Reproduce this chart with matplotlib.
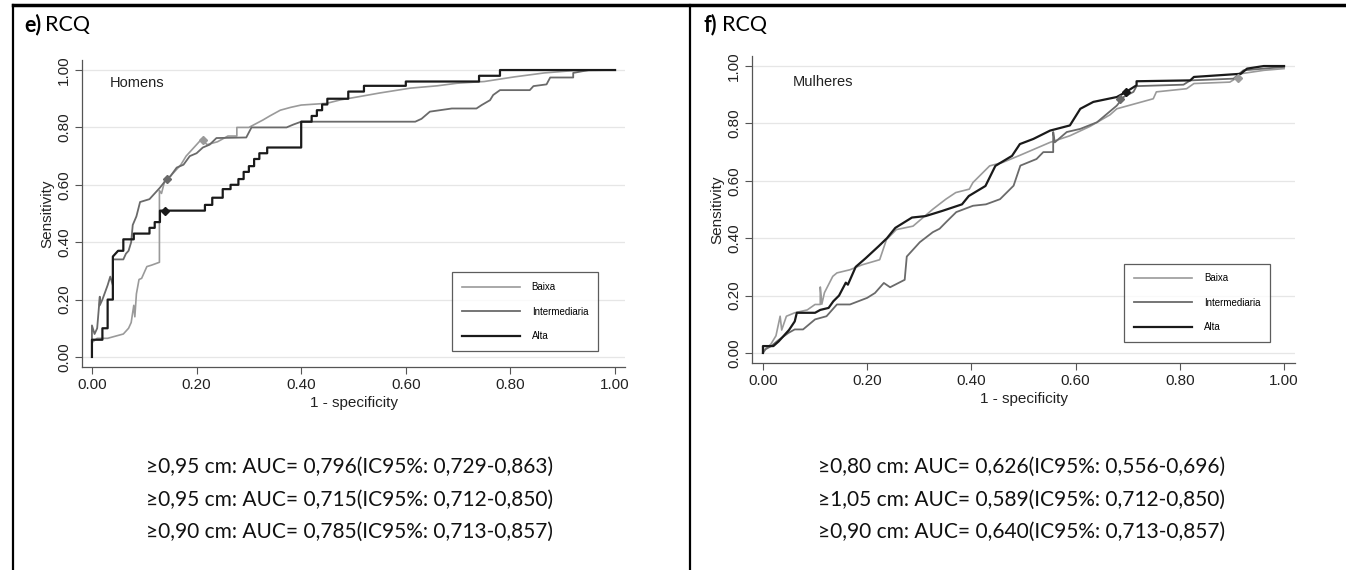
import matplotlib
matplotlib.use('Agg')
import matplotlib.pyplot as plt
from matplotlib.lines import Line2D

# ---- dados (curvas ROC) ----
# painel e) Homens
h_baixa_x = [0, 0, 0.01, 0.03, 0.05, 0.06, 0.07, 0.075, 0.08, 0.082, 0.085, 0.09, 0.095, 0.105, 0.114, 0.129,
             0.129, 0.133, 0.14, 0.15, 0.16, 0.17, 0.18, 0.19, 0.20, 0.21, 0.22, 0.24, 0.26, 0.277, 0.277, 0.30,
             0.327, 0.34, 0.36, 0.38, 0.40, 0.449, 0.475, 0.513, 0.55, 0.609, 0.66, 0.698, 0.75, 0.807, 0.865,
             0.92, 1.0]
h_baixa_y = [0, 0.05, 0.065, 0.065, 0.075, 0.08, 0.10, 0.12, 0.18, 0.14, 0.22, 0.27, 0.274, 0.315, 0.32, 0.33,
             0.58, 0.57, 0.62, 0.63, 0.65, 0.67, 0.70, 0.72, 0.74, 0.76, 0.74, 0.75, 0.77, 0.77, 0.80, 0.80,
             0.826, 0.84, 0.86, 0.87, 0.878, 0.884, 0.896, 0.908, 0.92, 0.937, 0.945, 0.954, 0.96, 0.976, 0.99,
             0.998, 1.0]
h_inter_x = [0, 0, 0.005, 0.01, 0.015, 0.015, 0.02, 0.03, 0.035, 0.04, 0.04, 0.06, 0.065, 0.07, 0.075, 0.078,
             0.085, 0.092, 0.11, 0.12, 0.13, 0.143, 0.15, 0.162, 0.175, 0.187, 0.20, 0.212, 0.225, 0.238, 0.295,
             0.305, 0.372, 0.385, 0.40, 0.618, 0.63, 0.646, 0.688, 0.735, 0.745, 0.761, 0.767, 0.78, 0.837,
             0.844, 0.869, 0.876, 0.92, 0.92, 0.95, 1.0]
h_inter_y = [0, 0.11, 0.08, 0.10, 0.21, 0.18, 0.20, 0.25, 0.28, 0.25, 0.34, 0.34, 0.36, 0.37, 0.40, 0.46,
             0.49, 0.54, 0.55, 0.57, 0.59, 0.62, 0.63, 0.66, 0.67, 0.70, 0.71, 0.73, 0.74, 0.763, 0.765,
             0.80, 0.80, 0.81, 0.82, 0.82, 0.83, 0.855, 0.866, 0.866, 0.878, 0.895, 0.913, 0.93, 0.93,
             0.944, 0.95, 0.974, 0.974, 0.99, 1.0, 1.0]
h_alta_x = [0, 0, 0.02, 0.02, 0.03, 0.03, 0.04, 0.04, 0.05, 0.06, 0.06, 0.08, 0.08, 0.11, 0.11, 0.12, 0.12,
            0.13, 0.13, 0.216, 0.216, 0.23, 0.23, 0.25, 0.25, 0.265, 0.265, 0.28, 0.28, 0.29, 0.29, 0.30, 0.30,
            0.31, 0.31, 0.32, 0.32, 0.335, 0.335, 0.40, 0.40, 0.42, 0.42, 0.43, 0.43, 0.44, 0.44, 0.45, 0.45,
            0.49, 0.49, 0.52, 0.52, 0.60, 0.60, 0.74, 0.74, 0.78, 0.78, 1.0]
h_alta_y = [0, 0.06, 0.06, 0.10, 0.10, 0.20, 0.20, 0.35, 0.37, 0.37, 0.41, 0.41, 0.43, 0.43, 0.45, 0.45, 0.47,
            0.47, 0.51, 0.51, 0.53, 0.53, 0.555, 0.555, 0.585, 0.585, 0.60, 0.60, 0.62, 0.62, 0.645, 0.645,
            0.665, 0.665, 0.69, 0.69, 0.71, 0.71, 0.73, 0.73, 0.82, 0.82, 0.84, 0.84, 0.86, 0.86, 0.88, 0.88,
            0.90, 0.90, 0.925, 0.925, 0.945, 0.945, 0.96, 0.96, 0.98, 0.98, 1.0, 1.0]

# painel f) Mulheres
m_baixa_x = [0, 0.004, 0.015, 0.025, 0.033, 0.036, 0.045, 0.061, 0.085, 0.10, 0.11, 0.11, 0.113, 0.118, 0.134,
             0.142, 0.167, 0.19, 0.224, 0.237, 0.256, 0.288, 0.326, 0.351, 0.37, 0.396, 0.403, 0.435, 0.46,
             0.492, 0.551, 0.589, 0.628, 0.666, 0.679, 0.749, 0.755, 0.813, 0.827, 0.896, 0.912, 0.916, 0.961,
             1.0]
m_baixa_y = [0, 0.013, 0.03, 0.06, 0.128, 0.08, 0.128, 0.14, 0.15, 0.169, 0.169, 0.23, 0.17, 0.21, 0.267,
             0.279, 0.29, 0.307, 0.325, 0.395, 0.43, 0.442, 0.501, 0.536, 0.559, 0.571, 0.594, 0.652, 0.664,
             0.688, 0.734, 0.757, 0.79, 0.83, 0.851, 0.886, 0.91, 0.921, 0.939, 0.944, 0.962, 0.973, 0.985,
             0.991]
m_inter_x = [0, 0.005, 0.016, 0.03, 0.049, 0.061, 0.077, 0.10, 0.122, 0.142, 0.167, 0.2, 0.215, 0.232, 0.244,
             0.272, 0.276, 0.301, 0.326, 0.339, 0.352, 0.371, 0.403, 0.428, 0.455, 0.481, 0.494, 0.525, 0.538,
             0.557, 0.557, 0.56, 0.583, 0.609, 0.641, 0.66, 0.679, 0.692, 0.711, 0.717, 0.807, 0.82, 0.903,
             0.922, 1.0]
m_inter_y = [0, 0.013, 0.024, 0.045, 0.07, 0.082, 0.082, 0.117, 0.128, 0.169, 0.169, 0.192, 0.209, 0.244,
             0.229, 0.255, 0.336, 0.386, 0.421, 0.433, 0.457, 0.491, 0.513, 0.518, 0.536, 0.583, 0.653, 0.676,
             0.70, 0.70, 0.77, 0.734, 0.77, 0.781, 0.804, 0.833, 0.862, 0.892, 0.91, 0.93, 0.935, 0.95, 0.956,
             0.985, 0.997]
m_alta_x = [0, 0, 0.02, 0.03, 0.04, 0.05, 0.061, 0.065, 0.10, 0.11, 0.126, 0.135, 0.146, 0.159, 0.163, 0.178,
            0.197, 0.222, 0.238, 0.254, 0.286, 0.312, 0.344, 0.382, 0.395, 0.427, 0.446, 0.478, 0.493, 0.519,
            0.551, 0.589, 0.609, 0.634, 0.679, 0.697, 0.717, 0.717, 0.82, 0.827, 0.917, 0.929, 0.961, 1.0]
m_alta_y = [0, 0.024, 0.024, 0.04, 0.06, 0.08, 0.11, 0.14, 0.14, 0.15, 0.157, 0.18, 0.20, 0.245, 0.238, 0.30,
            0.33, 0.372, 0.40, 0.436, 0.472, 0.477, 0.495, 0.518, 0.547, 0.582, 0.652, 0.687, 0.728, 0.746,
            0.775, 0.793, 0.851, 0.875, 0.892, 0.91, 0.933, 0.947, 0.95, 0.962, 0.973, 0.991, 1.0, 1.0]

# pontos de corte (marcadores)
h_cut = {'baixa': (0.213, 0.756), 'inter': (0.143, 0.62), 'alta': (0.14, 0.51)}
m_cut = {'baixa': (0.912, 0.958), 'inter': (0.686, 0.886), 'alta': (0.697, 0.909)}

grupos = ['Baixa', 'Intermediaria', 'Alta']
cores = ['#9a9a9a', '#6a6a6a', '#1a1a1a']
larguras = [1.2, 1.3, 1.6]

titulos = ['e)', 'f)']
sexo = ['Homens', 'Mulheres']
auc_h = ['≥0,95 cm: AUC= 0,796(IC95%: 0,729-0,863)',
         '≥0,95 cm: AUC= 0,715(IC95%: 0,712-0,850)',
         '≥0,90 cm: AUC= 0,785(IC95%: 0,713-0,857)']
auc_m = ['≥0,80 cm: AUC= 0,626(IC95%: 0,556-0,696)',
         '≥1,05 cm: AUC= 0,589(IC95%: 0,712-0,850)',
         '≥0,90 cm: AUC= 0,640(IC95%: 0,713-0,857)']

ticks = [0, 0.2, 0.4, 0.6, 0.8, 1.0]
tick_lab = ['0.00', '0.20', '0.40', '0.60', '0.80', '1.00']

plt.rcParams['font.family'] = ['Liberation Sans', 'DejaVu Sans']

fig = plt.figure(figsize=(13.46, 5.70), dpi=100)
fig.patch.set_facecolor('white')

# moldura da tabela
fig.add_artist(Line2D([13/1346, 1], [1-5/570, 1-5/570], color='black', lw=2.5, transform=fig.transFigure))
fig.add_artist(Line2D([13/1346, 13/1346], [0, 1-5/570], color='black', lw=1.6, transform=fig.transFigure))
fig.add_artist(Line2D([690/1346, 690/1346], [0, 1-5/570], color='black', lw=1.6, transform=fig.transFigure))

pos = [[82/1346, 1-367/570, 543/1346, 307/570],
       [752/1346, 1-363/570, 543/1346, 307/570]]
xlims = [(-0.019, 1.019), (-0.021, 1.021)]
ylims = [(-0.035, 1.035), (-0.035, 1.035)]

dados = [
    [(h_baixa_x, h_baixa_y), (h_inter_x, h_inter_y), (h_alta_x, h_alta_y)],
    [(m_baixa_x, m_baixa_y), (m_inter_x, m_inter_y), (m_alta_x, m_alta_y)],
]
cortes = [h_cut, m_cut]
textos = [auc_h, auc_m]
centros = [350/1346, 1022/1346]
tit_x = [24/1346, 704/1346]
sexo_pos = [(0.052, 0.925), (0.075, 0.915)]
leg_anchor = [(0.950, 0.052), (0.954, 0.068)]

for k in range(2):
    ax = fig.add_axes(pos[k])
    for i, (xx, yy) in enumerate(dados[k]):
        ax.plot(xx, yy, color=cores[i], lw=larguras[i], label=grupos[i], zorder=3 + i)
    for i, chave in enumerate(['baixa', 'inter', 'alta']):
        cx, cy = cortes[k][chave]
        ax.plot([cx], [cy], marker='D', ms=4.5, color=cores[i], zorder=7)
    ax.set_xlim(xlims[k])
    ax.set_ylim(ylims[k])
    ax.set_xticks(ticks)
    ax.set_xticklabels(tick_lab, fontsize=11, color='#222222')
    ax.set_yticks(ticks)
    ax.set_yticklabels(tick_lab, fontsize=11, color='#222222', rotation=90, va='center')
    ax.tick_params(direction='out', length=5, width=0.8, color='#555555', pad=3)
    ax.grid(axis='y', color='#e6e6e6', lw=0.9, zorder=0)
    for s in ['top', 'right']:
        ax.spines[s].set_visible(False)
    for s in ['left', 'bottom']:
        ax.spines[s].set_color('#555555')
        ax.spines[s].set_linewidth(0.9)
    ax.set_xlabel('1 - specificity', fontsize=11, color='#222222', labelpad=3)
    ax.set_ylabel('Sensitivity', fontsize=11, color='#222222', labelpad=2)
    ax.text(sexo_pos[k][0], sexo_pos[k][1], sexo[k], transform=ax.transAxes, fontsize=10.5,
            color='#222222', va='center')
    leg = ax.legend(loc='lower right', bbox_to_anchor=leg_anchor[k], fontsize=7, handlelength=6,
                    labelspacing=1.5, borderpad=1.0, handletextpad=1.2, frameon=True, fancybox=False,
                    borderaxespad=0)
    leg.get_frame().set_edgecolor('#333333')
    leg.get_frame().set_linewidth(0.9)

    # titulo do painel
    t = fig.text(tit_x[k], 1-25/570, titulos[k], fontsize=15.5, fontweight='bold',
                 family=['Lato', 'DejaVu Sans'], va='center', ha='left')
    fig.canvas.draw()
    bb = t.get_window_extent()
    fig.text(bb.x1 / fig.bbox.width + 0.003, 1-25/570, 'RCQ', fontsize=15.5, family=['Lato', 'DejaVu Sans'],
             va='center', ha='left')

    for j, linha in enumerate(textos[k]):
        fig.text(centros[k], 1-(467+32.5*j)/570, linha, fontsize=15, family=['Lato', 'DejaVu Sans'],
                 ha='center', va='center', color='#111111')

fig.savefig('out.png', dpi=100, facecolor='white')
